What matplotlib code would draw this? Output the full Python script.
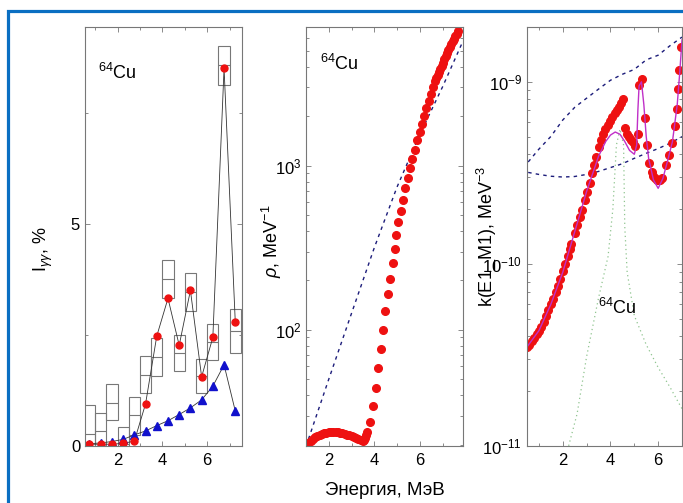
import numpy as np
import matplotlib
matplotlib.use('Agg')
import matplotlib.pyplot as plt
from matplotlib.patches import Rectangle
from matplotlib.ticker import MultipleLocator, LogLocator, NullFormatter

plt.rcParams['font.family'] = ['Liberation Sans', 'DejaVu Sans']
plt.rcParams['mathtext.fontset'] = 'custom'
plt.rcParams['mathtext.rm'] = 'Liberation Sans'
plt.rcParams['mathtext.it'] = 'Liberation Sans:italic'

# --- panel 1: gamma intensities ---
bin_left = [0.5, 1.0, 1.5, 2.0, 2.5, 3.0, 3.5, 4.0, 4.5, 5.0, 5.5, 6.0, 6.5, 7.0]
bin_hi = [0.92, 0.75, 1.39, 0.43, 1.10, 2.04, 2.44, 4.19, 2.50, 3.90, 1.97, 2.76, 9.02, 3.08]
bin_mid = [0.27, 0.34, 0.98, 0.05, 0.70, 1.61, 2.01, 3.77, 2.10, 3.47, 1.57, 2.35, 8.60, 2.59]
bin_lo = [0.0, 0.0, 0.58, 0.0, 0.25, 1.19, 1.58, 3.34, 1.70, 3.04, 1.19, 1.94, 8.15, 2.09]
e_pts = [0.75, 1.25, 1.75, 2.25, 2.75, 3.25, 3.75, 4.25, 4.75, 5.25, 5.75, 6.25, 6.75, 7.25]
i_exp = [0.04, 0.04, 0.04, 0.06, 0.11, 0.95, 2.48, 3.33, 2.27, 3.51, 1.56, 2.45, 8.52, 2.80]
i_calc = [0.05, 0.07, 0.10, 0.15, 0.25, 0.34, 0.46, 0.57, 0.71, 0.86, 1.04, 1.35, 1.83, 0.79]

# --- panel 2: level density ---
rho_e = [1.0, 1.1, 1.2, 1.3, 1.4, 1.5, 1.6, 1.7, 1.8, 1.9, 2.0, 2.1, 2.2, 2.3, 2.4,
         2.5, 2.6, 2.7, 2.8, 2.9, 3.0, 3.1, 3.2, 3.3, 3.4, 3.5, 3.55, 3.6, 3.65, 3.7,
         3.81, 3.96, 4.07, 4.18, 4.29, 4.39, 4.48, 4.59, 4.69, 4.81, 4.90, 4.97, 5.06,
         5.16, 5.27, 5.37, 5.48, 5.58, 5.68, 5.79, 5.89, 5.99, 6.08, 6.19, 6.29, 6.39,
         6.50, 6.57, 6.66, 6.72, 6.78, 6.84, 6.90, 6.96, 7.02, 7.08, 7.14, 7.20, 7.26,
         7.32, 7.38, 7.44, 7.50, 7.56, 7.62, 7.68]
rho_val = [19.8, 20.5, 21.1, 21.6, 22.1, 22.5, 22.9, 23.2, 23.4, 23.6, 23.7, 23.8, 23.8,
           23.8, 23.7, 23.6, 23.4, 23.2, 23.0, 22.8, 22.5, 22.2, 21.9, 21.6, 21.3, 21.0,
           21.2, 22.0, 23.0, 24.0,
           27.4, 34.4, 44.5, 58.6, 76.6, 100, 130, 165, 205, 255, 310, 376, 451,
           532, 621, 732, 843, 969, 1104, 1253, 1427, 1605, 1796, 2010, 2236, 2480,
           2733, 3017, 3300, 3420, 3570, 3720, 3880, 4060, 4250, 4450, 4650, 4860, 5070,
           5290, 5510, 5730, 5950, 6170, 6380, 6600]
rho_model_e = [1.0, 2.0, 3.0, 4.0, 5.0, 6.0, 7.0, 7.9]
rho_model = [19.5, 50, 126, 316, 741, 1549, 3020, 5750]

# --- panel 3: radiative strength function ---
k_e = [0.5, 0.6, 0.7, 0.8, 0.9, 1.0, 1.1, 1.2, 1.3, 1.4, 1.5, 1.6, 1.7, 1.8, 1.9, 2.0,
       2.1, 2.2, 2.3, 2.36, 2.50, 2.60, 2.71, 2.82, 2.92, 3.01, 3.13, 3.24, 3.33, 3.40,
       3.51, 3.61, 3.68, 3.79, 3.89, 3.96, 4.07, 4.17, 4.26, 4.35, 4.45, 4.54,
       4.62, 4.70, 4.79, 4.87, 4.93, 5.04, 5.14, 5.21, 5.32, 5.45, 5.55, 5.62, 5.74,
       5.80, 5.875, 5.95, 6.01, 6.08, 6.15, 6.32, 6.46, 6.60, 6.71, 6.78, 6.83, 6.875, 6.95]
k_val = [3.5e-11, 3.6e-11, 3.75e-11, 3.9e-11, 4.1e-11, 4.3e-11, 4.5e-11, 4.8e-11, 5.2e-11,
         5.6e-11, 6.0e-11, 6.4e-11, 7.0e-11, 7.6e-11, 8.3e-11, 9.1e-11, 1.0e-10, 1.1e-10,
         1.2e-10, 1.29e-10, 1.47e-10, 1.63e-10, 1.81e-10, 1.97e-10, 2.24e-10, 2.49e-10,
         2.77e-10, 3.14e-10, 3.49e-10, 3.88e-10, 4.40e-10, 4.79e-10, 5.2e-10, 5.54e-10,
         5.78e-10, 6.1e-10, 6.43e-10, 6.7e-10, 6.98e-10, 7.29e-10, 7.67e-10, 8.0e-10,
         5.6e-10, 5.2e-10, 5.0e-10, 4.8e-10, 4.7e-10, 4.45e-10, 5.2e-10, 9.6e-10, 1.03e-9,
         6.3e-10, 4.5e-10, 3.6e-10, 3.2e-10, 3.05e-10, 2.96e-10, 2.9e-10, 2.9e-10, 2.9e-10,
         2.96e-10, 3.5e-10, 3.97e-10, 4.6e-10, 5.7e-10, 7.1e-10, 9.1e-10, 1.16e-9, 1.56e-9]
fit_e = [0.5, 1.0, 1.5, 2.0, 2.5, 3.0, 3.5, 3.8, 4.0, 4.2, 4.4, 4.6, 4.8, 5.0, 5.1, 5.15,
         5.2, 5.3, 5.4, 5.5, 5.6, 5.8, 6.0, 6.2, 6.4, 6.6, 6.8, 6.9, 7.0]
fit_val = [3.5e-11, 4.3e-11, 6.0e-11, 9.0e-11, 1.5e-10, 2.5e-10, 3.9e-10, 4.7e-10, 5.1e-10,
           5.3e-10, 5.15e-10, 4.7e-10, 4.2e-10, 4.0e-10, 4.5e-10, 7.0e-10, 9.5e-10, 1.0e-9,
           7.5e-10, 5.0e-10, 3.8e-10, 2.9e-10, 2.6e-10, 2.95e-10, 3.7e-10, 4.7e-10, 7.5e-10,
           1.1e-9, 1.7e-9]
band_e = [0.55, 1.0, 1.5, 2.0, 2.5, 3.0, 3.5, 4.0, 4.5, 5.0, 5.5, 6.0, 6.5, 7.0]
band_hi = [3.63e-10, 4.27e-10, 5.01e-10, 6.17e-10, 7.24e-10, 8.13e-10, 9.12e-10, 1.02e-9,
           1.10e-9, 1.17e-9, 1.32e-9, 1.40e-9, 1.58e-9, 1.76e-9]
band_lo = [3.18e-10, 3.1e-10, 3.03e-10, 3.0e-10, 3.02e-10, 3.1e-10, 3.22e-10, 3.38e-10,
           3.55e-10, 3.8e-10, 4.05e-10, 4.3e-10, 4.6e-10, 5.0e-10]
comp_e = [2.2, 2.6, 3.0, 3.5, 3.9, 4.1, 4.25, 4.4, 4.55, 4.6, 4.7, 5.0, 5.5, 6.0, 6.5, 7.0]
comp_val = [9.5e-12, 1.5e-11, 3.1e-11, 6.5e-11, 1.1e-10, 2.0e-10, 4.5e-10, 5.5e-10, 4.5e-10,
            1.6e-10, 9e-11, 5.2e-11, 3.6e-11, 2.7e-11, 2.1e-11, 1.6e-11]

RED = '#ee1111'
BLUE = '#1111cc'
NAVY = '#1c1c7a'
GRAY = '#777777'
FS = 12

fig = plt.figure(figsize=(6.83, 5.03), dpi=100)

# blue frame around the picture
fig.patches.append(Rectangle((8 / 683, -0.1), 1.2, 1.1 - 11 / 503, transform=fig.transFigure,
                             fill=False, edgecolor='#0a6fc2', linewidth=2.3))

def px_axes(l, r, t=27, b=446):
    return fig.add_axes([l / 683, (503 - b) / 503, (r - l) / 683, (b - t) / 503])

def style(ax):
    for s in ax.spines.values():
        s.set_color(GRAY)
        s.set_linewidth(0.8)
    ax.tick_params(which='both', direction='in', top=True, right=True, color=GRAY,
                   labelsize=FS, width=0.6)
    ax.tick_params(which='major', length=3.5)
    ax.tick_params(which='minor', length=2)
    ax.tick_params(axis='x', pad=5)
    ax.xaxis.set_major_locator(MultipleLocator(2))
    ax.xaxis.set_minor_locator(MultipleLocator(1))

# panel 1
ax1 = px_axes(85, 242)
style(ax1)
heights = [h - l for h, l in zip(bin_hi, bin_lo)]
ax1.bar(bin_left, heights, width=0.5, bottom=bin_lo, align='edge', fill=False,
        edgecolor=GRAY, linewidth=0.8)
ax1.hlines(bin_mid, bin_left, [b + 0.5 for b in bin_left], color=GRAY, linewidth=0.8)
ax1.plot(e_pts, i_exp, color='#333333', lw=0.6)
ax1.plot(e_pts, i_calc, color='#333333', lw=0.6)
ax1.plot(e_pts, i_calc, '^', color=BLUE, ms=6, mec=BLUE)
ax1.plot(e_pts, i_exp, 'o', color=RED, ms=5, mec=RED)
ax1.set_xlim(0.55, 7.55)
ax1.set_ylim(0, 9.45)
ax1.yaxis.set_major_locator(MultipleLocator(5))
ax1.yaxis.set_minor_locator(MultipleLocator(2.5))
ax1.set_ylabel(r'I$_{\gamma\gamma}$, %', fontsize=FS + 1)
ax1.yaxis.set_label_coords(-0.19, 0.47)
ax1.text(0.08, 0.89, r'$^{64}$Cu', transform=ax1.transAxes, fontsize=13, va='center')

# panel 2
ax2 = px_axes(306, 463)
style(ax2)
ax2.set_yscale('log')
ax2.plot(rho_model_e, rho_model, color=NAVY, lw=1, linestyle=(0, (2.5, 3)))
ax2.plot(rho_e, rho_val, 'o', color=RED, ms=5.5, mec=RED, clip_on=True)
ax2.set_xlim(1.0, 7.9)
ax2.set_ylim(19.6, 7000)
ax2.yaxis.set_minor_formatter(NullFormatter())
ax2.set_ylabel(r'$\rho$, MeV$^{-1}$', fontsize=FS + 1)
ax2.yaxis.set_label_coords(-0.14, 0.49)
ax2.set_xlabel('Энергия, МэВ', fontsize=13.5, labelpad=10)
ax2.text(0.09, 0.912, r'$^{64}$Cu', transform=ax2.transAxes, fontsize=13, va='center')

# panel 3
ax3 = px_axes(527, 682)
style(ax3)
ax3.set_yscale('log')
ax3.plot(comp_e, comp_val, color='#8fc48f', lw=0.9, linestyle=(0, (1, 2.5)))
ax3.plot(band_e, band_hi, color=NAVY, lw=1, linestyle=(0, (2.5, 3)))
ax3.plot(band_e, band_lo, color=NAVY, lw=1, linestyle=(0, (2.5, 3)))
ax3.plot(k_e, k_val, 'o', color=RED, ms=5.5, mec=RED)
ax3.plot(fit_e, fit_val, color='#c030c8', lw=1)
ax3.set_xlim(0.5, 7.0)
ax3.set_ylim(1e-11, 2e-9)
ax3.yaxis.set_minor_formatter(NullFormatter())
ax3.set_ylabel(r'k(E1_M1), MeV$^{-3}$', fontsize=FS + 1)
ax3.yaxis.set_label_coords(-0.19, 0.5)
ax3.text(0.455, 0.329, r'$^{64}$Cu', transform=ax3.transAxes, fontsize=13, va='center')

fig.savefig('out.png', dpi=100)
